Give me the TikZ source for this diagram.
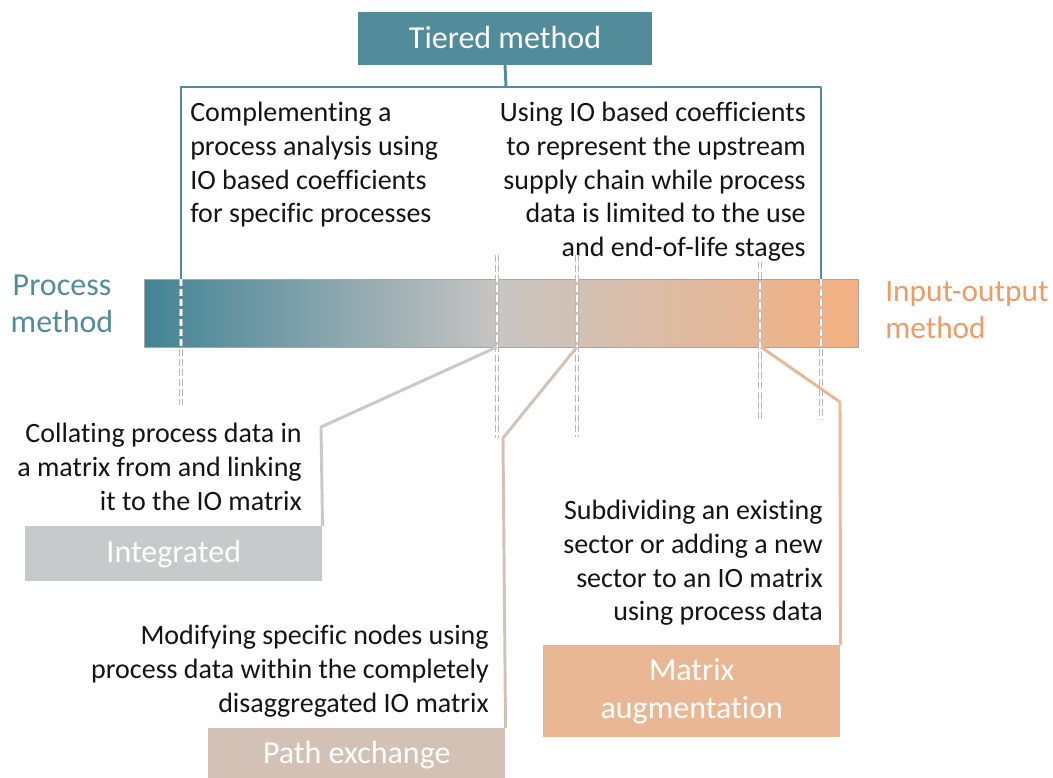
\documentclass[tikz,border=0pt]{standalone}
\usepackage{fontspec}
\setmainfont{Carlito}[Ligatures=NoCommon]
\usetikzlibrary{calc}

\definecolor{tealc}{RGB}{82,140,155}
\definecolor{barleft}{RGB}{66,131,148}
\definecolor{barmid}{RGB}{200,197,195}
\definecolor{barright}{RGB}{244,176,128}
\definecolor{ioorange}{RGB}{237,156,102}
\definecolor{intgray}{RGB}{200,201,203}
\definecolor{pathtan}{RGB}{212,193,182}
\definecolor{matorange}{RGB}{233,183,148}
\definecolor{inktext}{RGB}{20,20,20}

\tikzset{
  bodytext/.style={inner sep=0pt,text=inktext,font=\fontsize{21}{25.3}\selectfont},
  methodbox/.style={inner sep=0pt,text=white,minimum width=222.75pt,font=\fontsize{24}{28.5}\selectfont},
  bracket/.style={draw=tealc,line width=2.2pt},
  dashout/.style={draw=black!28,line width=2.4pt,dash pattern=on 5pt off 2.5pt},
  dashin/.style={draw=white,line width=1.1pt,dash pattern=on 5pt off 2.5pt},
}

\begin{document}
\begin{tikzpicture}[x=0.75pt,y=-0.75pt]
\clip (0,0) rectangle (1053,778);
\fill[white] (0,0) rectangle (1053,778);

% top box and bracket
\node[methodbox,fill=tealc,minimum width=220.5pt,minimum height=39.75pt] (tiered) at (505,38) {Tiered method};
\coordinate (lefttick) at (181,279);
\coordinate (righttick) at (821,279);
\draw[bracket] (tiered.south) -- (506,87);
\draw[bracket,line join=round] (lefttick) -- (181,87) -- (821,87) -- (righttick);

\node[bodytext,anchor=north west,align=left] (tierleft) at (190,102)
  {Complementing a\\process analysis using\\IO based coefficients\\for specific processes};
\node[bodytext,anchor=north east,align=right] (tierright) at (806,102)
  {Using IO based coefficients\\to represent the upstream\\supply chain while process\\data is limited to the use\\and end-of-life stages};

% the gradient bar
\node[draw=black!35,line width=0.5pt,left color=barleft,right color=barright,middle color=barmid,
  minimum width=535.5pt,minimum height=51pt,inner sep=0pt] (bar) at (501,313) {};
\node[text=tealc,align=center,inner sep=0pt,font=\fontsize{24}{28}\selectfont] (procm) at (62,304) {Process\\method};
\node[text=ioorange,align=left,anchor=west,inner sep=0pt,font=\fontsize{23.5}{28}\selectfont] (iom) at (885,310) {Input-output\\method};

% the dashed ticks
\foreach \x/\ya/\yb in {181/279/405, 497/255/438, 577/255/437, 760/262/420, 821/279/420} {
  \draw[dashout] (\x,\ya) -- (\x,\yb);
  \draw[dashin] (\x,\ya) -- (\x,\yb);
}

% the method boxes
\node[methodbox,fill=intgray,minimum height=41.25pt,anchor=north west] (integrated) at (25,526) {Integrated};
\node[methodbox,fill=pathtan,minimum height=40pt,anchor=north west] (pathex) at (208,728) {Path exchange};
\node[methodbox,fill=matorange,minimum height=69pt,anchor=north west,align=center] (matrixaug) at (543,645) {Matrix\\augmentation};

\node[bodytext,anchor=north east,align=right] (intdesc) at (302,423)
  {Collating process data in\\a matrix from and linking\\it to the IO matrix};
\node[bodytext,anchor=north east,align=right] (pathdesc) at (489,625)
  {Modifying specific nodes using\\process data within the completely\\disaggregated IO matrix};
\node[bodytext,anchor=north east,align=right] (matdesc) at (823,500)
  {Subdividing an existing\\sector or adding a new\\sector to an IO matrix\\using process data};

% connectors
\coordinate (intfoot) at (497,347);
\coordinate (intkink) at (321,427);
\coordinate (pathfoot) at (577,347);
\coordinate (pathkink) at (503,438);
\coordinate (matfoot) at (761,347);
\coordinate (matkink) at (840,402);
\draw[draw=intgray,line width=2.2pt,line join=round] (intfoot) -- (intkink) -- (integrated.north east);
\draw[draw=pathtan,line width=2.2pt,line join=round] (pathfoot) -- (pathkink) -- (pathex.north east);
\draw[draw=matorange,line width=2.2pt,line join=round] (matfoot) -- (matkink) -- (matrixaug.north east);
\end{tikzpicture}
\end{document}
